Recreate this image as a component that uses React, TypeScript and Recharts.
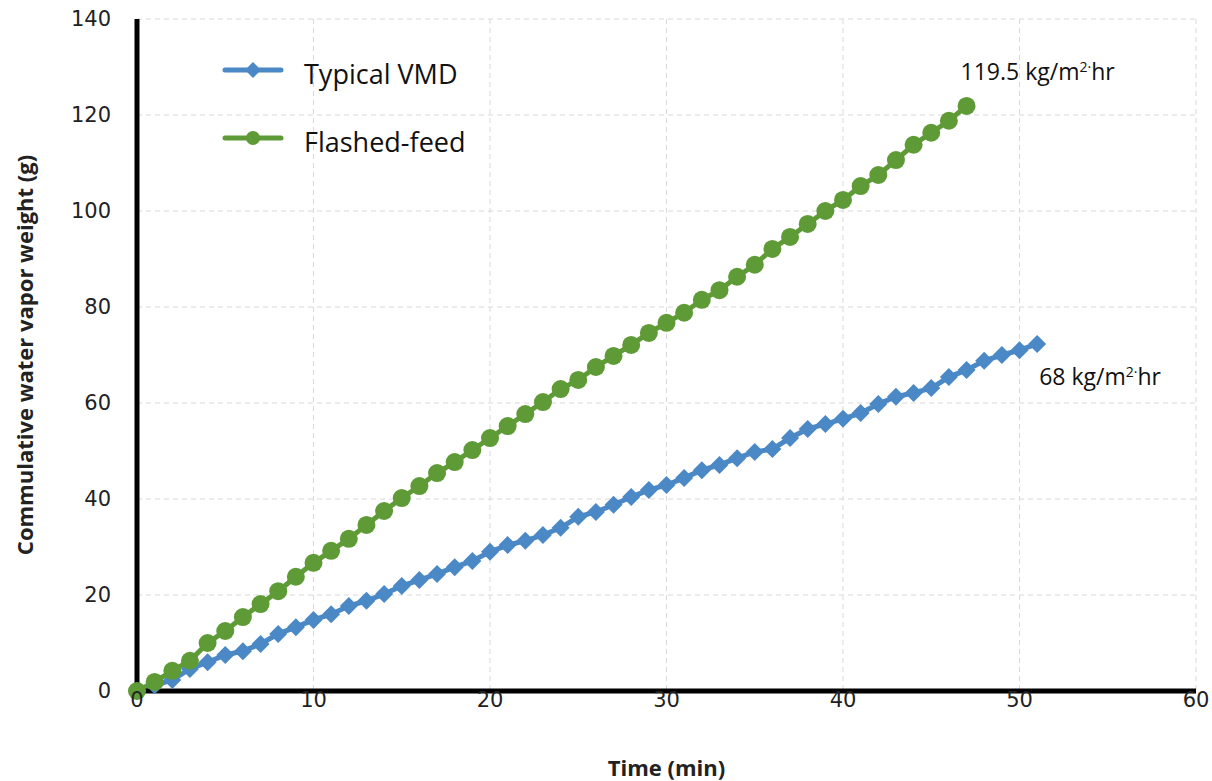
import React from 'react';
import {
  LineChart,
  Line,
  XAxis,
  YAxis,
  CartesianGrid,
  Legend,
  Label,
} from 'recharts';

// minutes
const typicalTime = Array.from({ length: 52 }, (_, i) => i);
const flashedTime = Array.from({ length: 48 }, (_, i) => i);

// cumulative water vapor weight (g)
const typicalWeight = [
  0, 1.2, 2.3, 4.6, 6.0, 7.5, 8.3, 9.8, 11.9, 13.3, 14.8, 16.0, 17.7, 18.8, 20.2, 21.9,
  23.1, 24.4, 25.8, 27.1, 29.0, 30.4, 31.3, 32.5, 34.0, 36.3, 37.3, 38.8, 40.4, 41.9,
  42.9, 44.4, 46.0, 47.1, 48.5, 49.8, 50.4, 52.7, 54.6, 55.6, 56.7, 57.9, 59.8, 61.3,
  62.1, 63.1, 65.4, 66.9, 68.8, 70.0, 71.0, 72.3,
];
const flashedWeight = [
  0, 1.9, 4.2, 6.3, 10.0, 12.5, 15.4, 18.1, 20.8, 23.8, 26.7, 29.2, 31.7, 34.6, 37.5,
  40.2, 42.7, 45.4, 47.7, 50.2, 52.7, 55.2, 57.7, 60.2, 62.9, 64.8, 67.5, 69.8, 72.1,
  74.6, 76.7, 78.8, 81.5, 83.5, 86.3, 88.8, 92.1, 94.6, 97.3, 100.0, 102.3, 105.2,
  107.5, 110.6, 113.8, 116.3, 118.8, 121.9,
];

const xTicks = [0, 10, 20, 30, 40, 50, 60];
const yTicks = [0, 20, 40, 60, 80, 100, 120, 140];
const typicalFlux = '68';
const flashedFlux = '119.5';

const BLUE = '#4a88c6';
const GREEN = '#5e9b36';

const typicalData = typicalTime.map((t, i) => ({ t, w: typicalWeight[i] }));
const flashedData = flashedTime.map((t, i) => ({ t, w: flashedWeight[i] }));

const Diamond = ({ cx, cy, size = 9 }: any) => (
  <polygon
    points={`${cx},${cy - size} ${cx + size},${cy} ${cx},${cy + size} ${cx - size},${cy}`}
    fill={BLUE}
  />
);

const fluxLabel = (flux: string, lastIndex: number, dx: number, dy: number) => (props: any) => {
  const { x, y, index } = props;
  if (index !== lastIndex) return null;
  return (
    <text
      x={x + dx}
      y={y + dy}
      fontFamily="'Open Sans', sans-serif"
      fontSize={23}
      fill="#111"
    >
      {`${flux} kg/m`}
      <tspan dy={-8} fontSize={14}>
        2·
      </tspan>
      <tspan dy={8}>hr</tspan>
    </text>
  );
};

const LegendBox = () => {
  const rows = [
    { name: 'Typical VMD', color: BLUE, marker: 'diamond' },
    { name: 'Flashed-feed', color: GREEN, marker: 'circle' },
  ];
  return (
    <div>
      {rows.map((r) => (
        <div
          key={r.name}
          style={{ display: 'flex', alignItems: 'center', height: 68 }}
        >
          <svg width={62} height={24}>
            <line x1={3} y1={12} x2={59} y2={12} stroke={r.color} strokeWidth={5} strokeLinecap="round" />
            {r.marker === 'diamond' ? (
              <polygon points="31,4 39,12 31,20 23,12" fill={r.color} />
            ) : (
              <circle cx={31} cy={12} r={7} fill={r.color} />
            )}
          </svg>
          <span
            style={{
              marginLeft: 20,
              marginTop: 6,
              fontFamily: "'Open Sans', sans-serif",
              fontSize: 27,
              color: '#111',
              whiteSpace: 'nowrap',
            }}
          >
            {r.name}
          </span>
        </div>
      ))}
    </div>
  );
};

const YTitle = ({ viewBox }: any) => {
  const cy = viewBox.y + viewBox.height / 2;
  return (
    <text
      x={24}
      y={cy}
      transform={`rotate(-90, 24, ${cy})`}
      textAnchor="middle"
      dominantBaseline="central"
      fontFamily="'Open Sans', sans-serif"
      fontWeight={700}
      fontSize={22}
      fill="#222"
    >
      Commulative water vapor weight (g)
    </text>
  );
};

export default function App() {
  const tickStyle = { fill: '#222', fontSize: 21, fontFamily: "'DejaVu Sans', sans-serif" };
  return (
    <div style={{ position: 'absolute', left: 0, top: 0, background: '#fff' }}>
      <LineChart
        width={1212}
        height={781}
        margin={{ top: 19, right: 16, left: 0, bottom: 0 }}
      >
        <CartesianGrid stroke="#d9d9d9" strokeDasharray="5 4" />
        <XAxis
          type="number"
          dataKey="t"
          domain={[0, 60]}
          ticks={xTicks}
          height={90}
          tickLine={false}
          tickSize={0}
          tickMargin={1}
          axisLine={{ stroke: '#000', strokeWidth: 5 }}
          tick={tickStyle}
          allowDuplicatedCategory={false}
        >
          <Label
            value="Time (min)"
            position="insideBottom"
            offset={5}
            style={{
              fontFamily: "'Open Sans', sans-serif",
              fontWeight: 700,
              fontSize: 22,
              fill: '#222',
            }}
          />
        </XAxis>
        <YAxis
          type="number"
          domain={[0, 140]}
          ticks={yTicks}
          width={137}
          tickLine={false}
          tickSize={0}
          tickMargin={26}
          axisLine={{ stroke: '#000', strokeWidth: 5 }}
          tick={tickStyle}
        >
          <Label content={<YTitle />} />
        </YAxis>
        <Legend
          verticalAlign="middle"
          align="center"
          layout="horizontal"
          content={<LegendBox />}
          wrapperStyle={{ position: 'absolute', left: 222, top: 36, width: 'auto', height: 'auto' }}
        />
        <Line
          data={typicalData}
          dataKey="w"
          name="Typical VMD"
          stroke={BLUE}
          strokeWidth={5}
          dot={<Diamond />}
          activeDot={false}
          isAnimationActive={false}
          label={fluxLabel(typicalFlux, typicalData.length - 1, 2, 41)}
        />
        <Line
          data={flashedData}
          dataKey="w"
          name="Flashed-feed"
          stroke={GREEN}
          strokeWidth={5}
          dot={{ r: 9, fill: GREEN, stroke: 'none' }}
          activeDot={false}
          isAnimationActive={false}
          label={fluxLabel(flashedFlux, flashedData.length - 1, -6, -26)}
        />
      </LineChart>
    </div>
  );
}
